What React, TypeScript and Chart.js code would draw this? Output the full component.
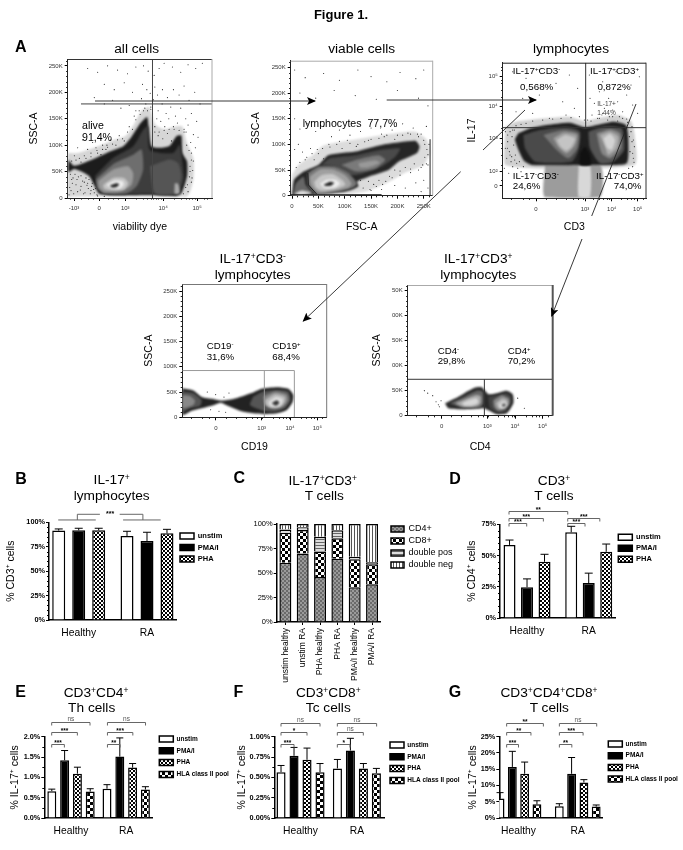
import React, { useEffect, useRef } from "react";
import { Chart, registerables } from "chart.js";

Chart.register(...registerables);

/* ---------- panel A: flow cytometry data (x in display channels or FSC K, y in SSC K or channels) ---------- */
const allCellsContours = [
  [0,85, 30,85, 80,95, 130,108, 175,118, 200,140, 222,165, 245,172, 262,140, 290,130, 320,135, 345,135, 358,105, 378,75, 378,35, 358,3, 100,3, 20,3, 0,3],
  [2,73, 19,61, 67,71, 127,88, 167,98, 192,116, 217,140, 239,153, 244,129, 252,98, 277,95, 307,99, 327,117, 342,118, 345,85, 359,69, 359,41, 342,9, 327,4, 237,6, 147,5, 95,8, 79,25, 65,41, 42,50, 19,55, 2,49],
  [82,41, 137,76, 197,98, 227,129, 242,136, 247,91, 317,85, 337,101, 345,66, 349,35, 332,9, 237,8, 117,8, 92,19],
  [85,35, 142,66, 197,82, 222,92, 227,54, 207,22, 177,9, 107,9, 89,19],
  [247,60, 307,73, 332,66, 342,41, 327,9, 262,9],
  [322,28, 332,27, 337,9, 322,8],
  [92,32, 137,54, 182,60, 197,47, 192,25, 162,13, 112,11, 95,19],
  [107,25, 137,38, 169,38, 182,28, 169,16, 132,15, 109,18],
  [117,25, 142,33, 165,32, 169,25, 157,18, 132,18],
  [127,24, 147,28, 155,26, 147,21, 132,20],
];
const allCellsGreys = ["#d6d6d6", "#1c1c1c", "#3d3d3d", "#6e6e6e", "#555", "#aaa", "#9a9a9a", "#c6c6c6", "#ececec", "#222"];
const allCellsDots = [
  228,250, 242,240, 260,232, 275,245, 290,255, 315,248, 340,238, 362,252, 385,245, 405,255, 225,215, 238,205, 248,198, 262,210, 270,195, 285,205, 300,190, 318,205, 335,195, 350,212, 365,185, 382,200, 398,178, 222,188, 235,178, 250,172, 258,186, 272,165, 284,178, 296,160, 310,172, 324,155, 340,170, 355,150, 372,160, 388,145, 240,165, 255,160, 268,150, 280,145, 292,135, 304,150, 318,135, 330,142, 350,130, 362,138, 378,120, 392,115, 262,125, 272,118, 286,112, 300,122, 312,108, 356,125, 370,105, 384,95, 372,85, 378,70, 368,60, 376,52, 366,40, 372,30, 355,20, 362,12,
  60,245, 90,238, 120,250, 150,242, 180,235, 205,248, 110,215, 140,205, 170,218, 195,200, 80,190, 110,178, 135,185, 160,170, 185,175, 205,165,
  30,95, 45,110, 60,92, 75,105, 90,85, 105,100, 120,96, 130,110, 145,100, 155,118, 170,108, 180,125, 195,130, 205,148, 218,158, 228,165, 20,80, 35,75, 50,80, 70,78, 85,95, 100,82, 115,92,
  6,20, 12,35, 18,8, 25,25, 32,40, 38,15, 45,32, 52,10, 58,24, 64,35, 70,14, 74,28, 10,14, 22,45, 30,12, 40,22, 48,8, 55,38, 62,18, 68,8, 80,10, 84,18, 88,6, 4,6, 14,28,
  12,70, 25,72, 40,68, 55,75, 70,85, 88,90, 105,92, 118,100, 135,102, 150,110, 165,112, 185,135, 200,155, 215,165, 232,170, 250,168, 262,135, 275,125, 290,128, 305,130, 320,130, 335,128, 350,125, 358,100, 365,90, 372,72, 368,50, 374,38, 360,25, 348,8, 8,45, 16,38, 28,35, 40,42, 50,30, 60,28, 72,22, 78,16, 90,4, 110,3,
];
const allCellsGates = [[255, 0, 255, 262], [40, 178, 434, 178]];

const viableContours = [
  [0,40, 12,60, 40,80, 60,98, 110,108, 170,118, 232,125, 255,110, 262,85, 250,60, 215,45, 190,30, 165,18, 140,8, 100,2, 0,0],
  [1,8, 4,31, 22,47, 50,60, 69,79, 120,86, 170,99, 234,107, 242,96, 237,83, 202,66, 183,50, 145,37, 123,27, 126,18, 101,8, 47,3, 25,0, 1,0],
  [56,60, 72,73, 123,79, 167,89, 205,92, 196,76, 170,57, 132,43, 110,40, 82,57],
  [94,60, 126,71, 164,79, 177,70, 158,53, 123,47],
  [126,63, 158,69, 167,64, 145,55, 129,55],
  [30,44, 50,57, 82,57, 107,44, 123,24, 116,16, 88,8, 47,3, 31,21],
  [34,37, 53,51, 78,51, 101,40, 113,24, 107,16, 82,10, 50,6, 36,21],
  [42,27, 56,40, 78,42, 96,30, 101,21, 82,13, 56,10, 45,16],
  [53,23, 66,31, 82,31, 91,24, 82,16, 62,15],
  [60,21, 72,27, 80,25, 75,20, 64,19],
  [2,3, 7,24, 22,37, 26,21, 38,6, 18,1],
  [3,3, 18,10, 38,5, 18,1],
];
const viableGreys = ["#dcdcdc", "#262626", "#4a4a4a", "#7a7a7a", "#999", "#777", "#a0a0a0", "#c8c8c8", "#eee", "#222", "#666", "#ddd"];
const viableDots = [
  5,245, 25,230, 60,238, 90,225, 125,245, 150,232, 180,222, 205,240, 235,228, 250,245, 15,200, 45,190, 80,205, 120,195, 160,188, 200,205, 240,190, 258,175,
  5,150, 15,130, 30,140, 45,125, 60,135, 75,115, 90,128, 110,118, 130,125, 150,132, 170,120, 190,128, 210,140, 230,132, 245,120, 255,135, 260,100,
  5,90, 12,100, 20,85, 28,75, 35,92, 42,70, 50,82, 60,72, 72,95, 85,100, 95,92, 110,102, 122,96, 138,105, 150,110, 165,112, 180,118, 195,110, 210,118, 225,120, 240,115, 250,108, 256,90, 252,75, 258,60,
  248,60, 240,50, 232,62, 225,45, 215,55, 205,40, 195,50, 185,38, 178,28, 165,30, 155,22, 145,28, 135,15, 130,30, 150,10, 170,12, 195,20, 215,15, 235,25, 250,30, 258,15, 245,8,
  8,55, 15,65, 25,70, 38,82, 48,90, 58,92, 70,100, 90,106, 105,108, 125,100, 145,108, 175,115, 200,118, 220,122, 238,120, 252,100, 258,80, 255,62, 245,55, 225,52, 205,48, 190,35, 172,22, 160,18, 148,12,
];
const viableGates = [[262, 0, 262, 110], [-2, 2, 170, 2], [30, 44, 31, 21], [31, 21, 47, 3]];

const lymphContours = [
  [8,215, 40,230, 130,240, 200,245, 247,232, 300,243, 345,250, 385,232, 396,190, 395,100, 8,100],
  [127,100, 292,100, 292,3, 127,3],
  [228,100, 262,100, 262,3, 228,3],
  [47,195, 82,210, 132,220, 202,227, 247,213, 282,220, 332,230, 370,220, 377,175, 372,105, 292,100, 247,100, 87,100, 62,115, 37,175],
  [62,190, 112,205, 192,215, 232,200, 227,145, 207,110, 97,110, 67,150],
  [122,190, 182,205, 227,195, 224,150, 197,120, 162,145],
  [152,180, 182,197, 222,190, 217,160, 192,135, 167,155],
  [162,175, 187,190, 217,180, 207,155, 190,143, 172,157],
  [257,200, 302,215, 357,210, 364,145, 332,110, 292,105, 262,150],
  [282,195, 322,207, 352,195, 354,150, 322,120, 297,135],
  [292,190, 322,200, 347,185, 342,150, 317,130, 307,155],
  [302,180, 322,193, 337,175, 327,145, 314,150],
  [232,135, 247,155, 262,130, 264,100, 232,100],
];
const lymphGreys = ["#d0d0d0", "#9c9c9c", "#d8d8d8", "#1f1f1f", "#4a4a4a", "#777", "#a0a0a0", "#c4c4c4", "#555", "#888", "#b0b0b0", "#d4d4d4", "#111"];
const lymphDots = [
  30,380, 70,360, 110,385, 160,345, 200,370, 225,330, 60,300, 110,310, 180,290, 215,270, 40,260, 90,255, 140,240, 190,250, 230,245,
  260,370, 300,350, 340,380, 385,340, 410,365, 262,300, 275,285, 290,320, 305,270, 318,300, 330,265, 345,290, 360,260, 372,310, 390,280, 405,255, 268,250, 285,240, 300,255, 315,235, 330,245, 345,232, 360,240, 375,228, 255,235,
  8,200, 15,170, 20,140, 25,110, 12,120, 5,90, 28,185, 33,160, 38,130, 42,105, 30,95, 18,75, 45,90, 50,110, 55,80, 62,95, 22,200, 35,205, 14,150, 27,125, 36,115,
  385,200, 388,170, 382,140, 392,120, 378,90, 385,75, 395,155, 380,185, 390,95,
  8,150, 15,190, 22,130, 30,205, 40,218, 55,222, 70,225, 90,232, 120,235, 150,238, 175,240, 205,242, 245,235, 265,232, 290,240, 320,245, 350,245, 372,238, 388,215, 392,175, 390,135, 394,108,
  232,90, 240,80, 250,95, 258,85, 236,70, 246,60, 255,72, 230,55, 242,45, 252,50, 260,40, 234,30, 246,25, 256,30, 238,12, 250,10, 244,88, 254,62, 238,38, 259,18,
];
const lymphGates = [[249, 212, 249, 407], [0, 212, 430, 212]];

const cd19Contours = [
  [0,57.5, 33,53, 58,40, 93,36, 118,32.7, 153,36, 208,48, 238,56.5, 283,59.5, 318,56.5, 333,44, 331,31, 313,14.5, 283,8, 243,6.6, 183,11, 133,24, 115,29, 93,24, 58,18, 28,13, 0,4.6],
  [213,41, 243,51, 288,54, 318,51, 325,34, 308,18, 278,11, 243,13, 203,24.5],
  [243,41, 278,51, 313,46, 318,34, 303,21, 273,16.5, 248,24.5],
  [248,34, 278,46, 308,41, 308,31, 293,21, 268,19, 251,24.5],
  [258,30, 281,40, 301,36, 298,26, 283,21, 263,22.5],
  [268,28, 283,34, 291,29, 281,23],
  [0,51, 33,48, 58,34, 53,22.5, 23,18, 0,11],
  [0,44, 23,42, 38,33, 33,24.5, 0,18],
];
const cd19Greys = ["#222", "#555", "#888", "#bbb", "#e0e0e0", "#333", "#555", "#888"];
const cd19Dots = [65,25, 75,50, 85,15, 100,45, 110,12, 125,40, 130,10, 140,48];
const cd19Gates = [[0, 92.6, 336, 92.6], [336, 0, 336, 92.6], [246, 0, 246, 92.6]];

const cd4Contours = [
  [112,24.7, 152,38, 197,55, 222,56.7, 242,43, 267,45, 297,50, 315,43, 317,24.7, 297,4.7, 267,3.3, 242,11, 227,14.7, 167,12.7, 122,14.7],
  [127,25, 167,37, 207,50, 225,48, 227,25, 217,16, 167,16],
  [142,25, 172,33, 202,41, 219,39, 219,25, 207,19, 167,18],
  [162,25, 182,31, 207,35, 212,26, 197,21, 172,20],
  [242,38, 272,41, 297,45, 310,38, 310,25, 292,8, 267,7, 247,15],
  [257,31, 282,41, 304,35, 305,25, 292,13, 272,10, 259,18],
  [265,25, 285,35, 299,30, 299,21, 287,15, 272,15],
  [275,23, 289,29, 297,23, 289,16, 277,16],
  [282,23, 292,25, 294,20, 285,18],
];
const cd4Greys = ["#2a2a2a", "#666", "#aaa", "#d8d8d8", "#444", "#888", "#bbb", "#e0e0e0", "#555"];
const cd4Dots = [50,50, 60,45, 75,40, 85,28, 92,22, 100,30, 95,18, 330,35, 350,15];
const cd4Gates = [[0, 72.7, 435, 72.7], [230, 0, 230, 72.7]];

const sscTicks = [0, 50, 100, 150, 200, 250];
const sscLabels = ["0", "50K", "100K", "150K", "200K", "250K"];
const cd4SscLabels = ["0", "50K", "00K", "50K", "00K", "50K"];
const fscLabels = ["0", "50K", "100K", "150K", "200K", "250K"];
const decadeLabels = ["0", "10³", "10⁴", "10⁵"];

/* ---------- panels B-G ---------- */
const groups = ["Healthy", "RA"];
const stimNames = ["unstim", "PMA/I", "PHA", "HLA class II pool"];

const bValues = [[91.5, 86], [91.8, 80.9], [91.8, 88.7]];
const bTops = [[93.2, 90.8], [93.9, 89.8], [93.9, 92.8]];
const dValues = [[58.5, 68.6], [24.6, 28], [45, 53]];
const dTops = [[62.4, 73.4], [31.3, 35.9], [51, 59.2]];
const eValues = [[0.66, 0.72], [1.42, 1.51], [1.09, 1.24], [0.65, 0.7]];
const eTops = [[0.71, 0.82], [1.66, 1.97], [1.25, 1.34], [0.72, 0.77]];
const fValues = [[0.564, 0.61], [0.765, 0.83], [0.716, 0.61], [0.564, 0.55]];
const fTops = [[0.646, 0.72], [0.868, 0.98], [0.86, 0.67], [0.67, 0.61]];
const gValues = [[5.97, 3.6], [15.7, 13.6], [13.6, 10.9], [4.2, 3.5]];
const gTops = [[7.8, 4.4], [20.5, 18.6], [17.2, 11.8], [5.3, 4.0]];

const cCategories = ["unstim healthy", "unstim RA", "PHA healthy", "PHA RA", "PMA/I healthy", "PMA/I RA"];
const cNames = ["CD4+", "CD8+", "double pos", "double neg"];
const cCd4 = [60.5, 70, 46, 64.5, 35.5, 38.5];
const cCd8 = [30.5, 24, 26, 21, 28.5, 20.5];
const cDoublePos = [3.5, 2.6, 15, 8, 2.7, 2];
const cDoubleNeg = [5.5, 3.4, 13, 6.5, 33.3, 39];

const dBrackets = [[0.708, 0.995, 75.8, "***"], [0.708, 1.265, 79.8, "***"], [0.708, 1.66, 85.7, "**"], [1.66, 1.94, 75.8, "***"], [1.66, 2.18, 79.8, "***"]];
const eBrackets = [[0.65, 0.88, 1.83, "***"], [0.65, 1.115, 2.12, "***"], [0.65, 1.344, 2.35, "ns"], [1.66, 1.89, 1.83, "**"], [1.66, 2.12, 2.12, "***"], [1.66, 2.35, 2.35, "ns"]];
const fBrackets = [[0.654, 0.885, 0.914, "***"], [0.654, 1.115, 1.062, "*"], [0.654, 1.346, 1.173, "ns"], [1.653, 1.877, 0.914, "*"], [1.653, 2.114, 1.062, "ns"], [1.653, 2.35, 1.173, "ns"]];
const gBrackets = [[0.8, 1, 22.84, "***"], [0.8, 1.21, 26.5, "**"], [0.8, 1.42, 29.3, "**"], [1.69, 1.9, 22.84, "**"], [1.69, 2.09, 26.5, "***"], [1.69, 2.32, 29.3, "ns"]];
const bTreeLines = [
  [[0.7, 102.4], [1.25, 102.4]],
  [[0.98, 102.4], [0.98, 108.2], [1.31, 108.2]],
  [[1.6, 108.2], [1.94, 108.2], [1.94, 102.4]],
  [[1.65, 102.4], [2.2, 102.4]],
];
const bTreeLabel = [1.46, 108.2, "***"];

/* ---------- texts ---------- */
const FONT = "'Liberation Sans', Arial, sans-serif";
const pageTexts: any[] = [
  { t: "Figure 1.", x: 341, y: 14, s: 13, b: 1 },
  { t: "A", x: 20.7, y: 47.3, s: 16, b: 1 }, { t: "B", x: 21, y: 479, s: 16, b: 1 }, { t: "C", x: 239.3, y: 478.3, s: 16, b: 1 }, { t: "D", x: 455, y: 479, s: 16, b: 1 },
  { t: "E", x: 20.7, y: 691.7, s: 16, b: 1 }, { t: "F", x: 238.3, y: 691.7, s: 16, b: 1 }, { t: "G", x: 455, y: 691.7, s: 16, b: 1 },
  { t: "all cells", x: 136.7, y: 49, s: 13.7 }, { t: "viable cells", x: 361.7, y: 49, s: 13.7 }, { t: "lymphocytes", x: 571, y: 49, s: 13.7 },
  { t: "IL-17^+^CD3^-^", x: 252.7, y: 259, s: 13.7 }, { t: "lymphocytes", x: 252.7, y: 275, s: 13.7 },
  { t: "IL-17^+^CD3^+^", x: 478.3, y: 259, s: 13.7 }, { t: "lymphocytes", x: 478.3, y: 275, s: 13.7 },
  { t: "IL-17^+^", x: 111.7, y: 480, s: 13.7 }, { t: "lymphocytes", x: 111.7, y: 495.7, s: 13.7 },
  { t: "IL-17^+^CD3^+^", x: 322.7, y: 480.7, s: 13.7 }, { t: "T cells", x: 324.3, y: 496, s: 13.7 },
  { t: "CD3^+^", x: 554, y: 481, s: 13.7 }, { t: "T cells", x: 554, y: 496, s: 13.7 },
  { t: "CD3^+^CD4^+^", x: 96, y: 693.3, s: 13.7 }, { t: "Th cells", x: 91.7, y: 708.3, s: 13.7 },
  { t: "CD3^+^CD8^+^", x: 328.3, y: 693.3, s: 13.7 }, { t: "Tc cells", x: 328.3, y: 708.3, s: 13.7 },
  { t: "CD3^+^CD4^+^CD8^+^", x: 549, y: 693.3, s: 13.7 }, { t: "T cells", x: 549.3, y: 708.3, s: 13.7 },
  { t: "alive", l: 82, y: 125, s: 10.6 }, { t: "91,4%", l: 82, y: 136.7, s: 10.6 },
  { t: "lymphocytes  77,7%", l: 302.7, y: 122.7, s: 10.6 },
  { t: "IL-17^+^CD3^-^", l: 512.7, y: 71, s: 9.8 }, { t: "0,568%", x: 536.7, y: 86.7, s: 9.8 },
  { t: "IL-17^+^CD3^+^", l: 590, y: 71, s: 9.8 }, { t: "0,872%", x: 614, y: 86.7, s: 9.8 },
  { t: "IL-17+", l: 597.3, y: 104, s: 6.5, c: "#444" }, { t: "1,44%", l: 597.3, y: 112.7, s: 6.5, c: "#444" },
  { t: "IL-17^-^CD3^-^", l: 512.7, y: 175.7, s: 9.8 }, { t: "24,6%", l: 512.7, y: 186, s: 9.8 },
  { t: "IL-17^-^CD3^+^", l: 596, y: 175.7, s: 9.8 }, { t: "74,0%", x: 627.7, y: 186, s: 9.8 },
  { t: "CD19^-^", l: 206.7, y: 346, s: 9.7 }, { t: "31,6%", l: 206.7, y: 356.7, s: 9.7 },
  { t: "CD19^+^", l: 272.3, y: 346, s: 9.7 }, { t: "68,4%", l: 272.3, y: 356.7, s: 9.7 },
  { t: "CD4^-^", l: 437.7, y: 350.7, s: 9.7 }, { t: "29,8%", l: 437.7, y: 361, s: 9.7 },
  { t: "CD4^+^", l: 507.7, y: 350.7, s: 9.7 }, { t: "70,2%", l: 507.7, y: 361, s: 9.7 },
];
const arrowLines = [
  { p: "95,101 315,101", head: true },
  { p: "386.7,100 536,100", head: true },
  { p: "525,110 483,150", head: false },
  { p: "460.7,171.7 303.3,321", head: true },
  { p: "636,104 591.7,216", head: false },
  { p: "582,239 551.7,316", head: true },
];

/* ---------- helpers ---------- */
const pts = (flat: number[]) => {
  const out: any[] = [];
  for (let i = 0; i < flat.length; i += 2) out.push({ x: flat[i], y: flat[i + 1] });
  return out;
};

function makePattern(kind: string) {
  const c = document.createElement("canvas");
  const g = c.getContext("2d")!;
  const paint = (size: number, bg: string, fg: string, cells: number[][], unit: number) => {
    c.width = size; c.height = size;
    g.fillStyle = bg; g.fillRect(0, 0, size, size);
    g.fillStyle = fg;
    cells.forEach(([x, y]) => g.fillRect(x * unit, y * unit, unit, unit));
  };
  if (kind === "pha") paint(4, "#fff", "#000", [[0, 0], [1, 1]], 2);
  if (kind === "hla") paint(6, "#000", "#fff", [[0, 0], [1, 1]], 3);
  if (kind === "cd4") paint(4, "#9a9a9a", "#6a6a6a", [[0, 0], [1, 1]], 2);
  if (kind === "cd8") paint(6, "#fff", "#000", [[0, 0], [1, 1]], 3);
  if (kind === "dp") { c.width = 3; c.height = 3; g.fillStyle = "#ddd"; g.fillRect(0, 0, 3, 3); g.fillStyle = "#666"; g.fillRect(0, 0, 3, 1); }
  if (kind === "dn") { c.width = 3; c.height = 3; g.fillStyle = "#fff"; g.fillRect(0, 0, 3, 3); g.fillStyle = "#555"; g.fillRect(0, 0, 1, 3); }
  return g.createPattern(c, "repeat");
}

function Box({ make, canvasBox }: any) {
  const ref = useRef<HTMLCanvasElement>(null);
  useEffect(() => {
    const chart = new Chart(ref.current!, make());
    return () => chart.destroy();
  }, []);
  return (
    <canvas
      ref={ref}
      width={canvasBox.w}
      height={canvasBox.h}
      style={{ position: "absolute", left: canvasBox.l, top: canvasBox.t, width: canvasBox.w, height: canvasBox.h }}
    />
  );
}

const legendPlacer = (spec: any, box: any) => ({
  id: "legendPlacer",
  beforeInit(chart: any) {
    if (!spec || !chart.legend) return;
    const fit = chart.legend.fit;
    chart.legend.fit = function () {
      fit.call(this);
      this.width = 0;
    };
  },
  afterLayout(chart: any) {
    if (!spec || !chart.legend) return;
    const L = chart.legend;
    const pad = spec.gap - spec.font;
    L.left = spec.x - box.l - pad;
    L.right = box.w;
    L.top = spec.y - box.t - pad - spec.font / 2;
    L.bottom = box.h;
  },
});

function rectBox(r: any, ml: number, mt: number, xh: number, extraRight: number) {
  const l = Math.floor(r.l - ml);
  const t = Math.floor(r.t - mt);
  const w = Math.ceil(r.r + extraRight - l);
  const h = Math.ceil(r.b + xh - t);
  return { l, t, w, h };
}

const SOFT = "blur(1px)";

function flowConfig(p: any, box: any) {
  const datasets: any[] = [];
  p.gates.forEach((g: number[]) =>
    datasets.push({ data: pts(g), showLine: true, borderColor: p.gateColor || "#333", borderWidth: 1, pointRadius: 0, order: 0, nextFilter: "none" })
  );
  const n = p.contours.length;
  p.contours.forEach((c: number[], i: number) =>
    datasets.push({
      data: pts([...c, c[0], c[1]]),
      showLine: true,
      fill: "shape",
      tension: 0.2,
      backgroundColor: p.greys[i],
      borderWidth: 0,
      borderColor: "rgba(0,0,0,0)",
      pointRadius: 0,
      order: n - i,
      nextFilter: i === n - 1 || (p.halo && i === 0) ? "none" : SOFT,
    })
  );
  datasets.push({ data: pts(p.dots), backgroundColor: "#222", borderWidth: 0, pointRadius: 0.55, order: p.halo ? n - 0.5 : n + 1, nextFilter: SOFT });
  const tickFont = { family: FONT, size: 6 };
  return {
    type: "scatter",
    data: { datasets },
    options: {
      responsive: false,
      animation: false,
      devicePixelRatio: 1,
      layout: { autoPadding: false, padding: { top: p.r.t - box.t, right: box.l + box.w - p.r.r, left: 0, bottom: box.t + box.h - p.r.b - p.xh } },
      plugins: { legend: { display: false }, tooltip: { enabled: false }, title: { display: false } },
      scales: {
        x: {
          type: "linear", min: p.xMin, max: p.xMax,
          afterFit: (s: any) => { s.height = p.xh; },
          afterBuildTicks: (s: any) => { s.ticks = p.xTicks.map((v: number) => ({ value: v })); },
          ticks: { callback: (_v: any, i: number) => p.xLabels[i], font: tickFont, color: "#333", padding: 4, autoSkip: false, maxRotation: 0, minRotation: 0 },
          grid: { drawOnChartArea: false, tickLength: 3, tickColor: "#000" },
          border: { color: "#222", width: 1 },
          title: { display: true, text: p.xTitle, font: { family: FONT, size: 10.5 }, color: "#000", padding: 0 },
        },
        y: {
          type: "linear", min: p.yMin, max: p.yMax,
          afterFit: (s: any) => { s.width = p.r.l - box.l; },
          afterBuildTicks: (s: any) => { s.ticks = p.yTicks.map((v: number) => ({ value: v })); },
          ticks: { callback: (_v: any, i: number) => p.yLabels[i], font: tickFont, color: "#333", padding: 2, autoSkip: false },
          grid: { drawOnChartArea: false, tickLength: 3, tickColor: "#000" },
          border: { color: "#222", width: 1 },
          title: { display: true, text: p.yTitle, font: { family: FONT, size: 10.5 }, color: "#000", padding: 0 },
        },
      },
    },
    plugins: [
      {
        id: "flowDeco",
        beforeDatasetsDraw(chart: any) {
          chart.ctx.filter = p.halo ? SOFT : "none";
        },
        afterDatasetDraw(chart: any, args: any) {
          chart.ctx.filter = chart.data.datasets[args.index].nextFilter || "none";
        },
        afterDatasetsDraw(chart: any) {
          chart.ctx.filter = "none";
        },
        afterDraw(chart: any) {
          const { ctx, chartArea: a, scales } = chart;
          ctx.save();
          ctx.lineWidth = 1;
          ctx.strokeStyle = p.topColor; ctx.beginPath(); ctx.moveTo(a.left, a.top + 0.5); ctx.lineTo(a.right, a.top + 0.5); ctx.stroke();
          ctx.lineWidth = p.rightWidth || 1;
          ctx.strokeStyle = p.rightColor; ctx.beginPath(); ctx.moveTo(a.right, a.top); ctx.lineTo(a.right, a.bottom); ctx.stroke();
          ctx.lineWidth = 1; ctx.strokeStyle = "#222";
          ctx.beginPath();
          p.xMinor.forEach((v: number) => { const x = Math.round(scales.x.getPixelForValue(v)) + 0.5; ctx.moveTo(x, a.bottom); ctx.lineTo(x, a.bottom + 1.6); });
          (p.yMinor || []).forEach((v: number) => { const y = Math.round(scales.y.getPixelForValue(v)) + 0.5; ctx.moveTo(a.left, y); ctx.lineTo(a.left - 1.6, y); });
          ctx.stroke();
          ctx.restore();
        },
      },
    ],
  };
}

function barConfig(b: any, box: any) {
  const barTicks = b.yTicks;
  const datasets = b.values.map((vals: number[], i: number) => ({
    label: b.names[i],
    data: vals.map((v, k) => ({ x: k + 1, y: v })),
    backgroundColor: b.fills[i],
    borderColor: "#000",
    borderWidth: 1.5,
    categoryPercentage: b.catPct,
    barPercentage: b.barPct,
  }));
  return {
    type: "bar",
    data: { datasets },
    options: {
      responsive: false,
      animation: false,
      devicePixelRatio: 1,
      layout: { autoPadding: false, padding: { top: b.r.t - box.t, right: box.l + box.w - b.r.r, left: 0, bottom: 0 } },
      plugins: {
        tooltip: { enabled: false },
        title: { display: false },
        legend: {
          display: true, position: "right", align: "start",
          labels: { boxWidth: 14, boxHeight: 6, padding: b.legend.gap - b.legend.font, color: "#000", font: { family: FONT, size: b.legend.font, weight: "bold" } },
        },
      },
      scales: {
        x: {
          type: "linear", min: b.xMin, max: b.xMax, offset: false,
          afterFit: (s: any) => { s.height = b.xh; },
          afterBuildTicks: (s: any) => { s.ticks = groups.map((_g, i) => ({ value: i + 1 })); },
          ticks: { callback: (_v: any, i: number) => groups[i], font: { family: FONT, size: 10.3 }, color: "#000", padding: 7, autoSkip: false, maxRotation: 0, minRotation: 0 },
          grid: { display: false, offset: false, drawTicks: false },
          border: { color: "#000", width: 1.5 },
        },
        y: {
          type: "linear", min: 0, max: b.yMax,
          afterFit: (s: any) => { s.width = b.r.l - box.l; },
          afterBuildTicks: (s: any) => { s.ticks = barTicks.map((v: number) => ({ value: v })); },
          ticks: { callback: (_v: any, i: number) => b.yLabels[i], font: { family: FONT, size: 7.3, weight: "bold" }, color: "#000", padding: 1, autoSkip: false },
          grid: { drawOnChartArea: false, tickLength: 3, tickColor: "#000", tickWidth: 1 },
          border: { color: "#000", width: 1.5 },
          title: { display: true, text: b.yTitle, font: { family: FONT, size: 10.5 }, color: "#000", padding: 0 },
        },
      },
    },
    plugins: [
      legendPlacer(b.legend, box),
      {
        id: "barDeco",
        afterDatasetsDraw(chart: any) {
          const { ctx, scales, chartArea: a } = chart;
          const xs = scales.x, ys = scales.y;
          ctx.save();
          ctx.strokeStyle = "#000"; ctx.lineWidth = 1;
          b.tops.forEach((tops: number[], d: number) => {
            const meta = chart.getDatasetMeta(d);
            tops.forEach((top, k) => {
              const bar = meta.data[k];
              const yT = ys.getPixelForValue(top);
              ctx.beginPath();
              ctx.moveTo(bar.x, ys.getPixelForValue(b.values[d][k])); ctx.lineTo(bar.x, yT);
              ctx.moveTo(bar.x - b.cap, yT); ctx.lineTo(bar.x + b.cap, yT);
              ctx.stroke();
            });
          });
          ctx.lineWidth = 1; ctx.strokeStyle = "#666";
          const label = (x: number, y: number, t: string) => {
            ctx.fillStyle = t === "ns" ? "#555" : "#000";
            ctx.font = `${t === "ns" ? "normal" : "bold"} 6.5px ${FONT}`;
            ctx.textAlign = "center"; ctx.textBaseline = "bottom";
            ctx.fillText(t, x, t === "ns" ? y : y + 2);
          };
          (b.brackets || []).forEach(([x1, x2, v, t]: any) => {
            const p1 = xs.getPixelForValue(x1), p2 = xs.getPixelForValue(x2), y = Math.round(ys.getPixelForValue(v)) + 0.5;
            ctx.beginPath(); ctx.moveTo(p1, y + 3); ctx.lineTo(p1, y); ctx.lineTo(p2, y); ctx.lineTo(p2, y + 3); ctx.stroke();
            label((p1 + p2) / 2, y - 0.5, t);
          });
          (b.lines || []).forEach((line: number[][]) => {
            ctx.beginPath();
            line.forEach(([x, v], i) => {
              const X = xs.getPixelForValue(x), Y = ys.getPixelForValue(v);
              if (i) ctx.lineTo(X, Y); else ctx.moveTo(X, Y);
            });
            ctx.stroke();
          });
          if (b.lineLabel) {
            ctx.fillStyle = "#000"; ctx.font = `bold 7px ${FONT}`; ctx.textAlign = "center"; ctx.textBaseline = "middle";
            ctx.fillText(b.lineLabel[2], xs.getPixelForValue(b.lineLabel[0]), ys.getPixelForValue(b.lineLabel[1]));
          }
          ctx.strokeStyle = "#000"; ctx.beginPath();
          (b.yMinor || []).forEach((v: number) => { const y = Math.round(ys.getPixelForValue(v)) + 0.5; ctx.moveTo(a.left, y); ctx.lineTo(a.left - 2, y); });
          ctx.stroke();
          ctx.restore();
        },
      },
    ],
  };
}

function stackConfig(box: any, r: any, xh: number, legend: any) {
  const fills = ["cd4", "cd8", "dp", "dn"].map(makePattern);
  const series = [cCd4, cCd8, cDoublePos, cDoubleNeg];
  return {
    type: "bar",
    data: {
      labels: cCategories,
      datasets: series.map((vals, i) => ({
        label: cNames[i], data: vals, backgroundColor: fills[i], borderColor: "#000", borderWidth: 1.5,
        barPercentage: 0.69, categoryPercentage: 1,
      })),
    },
    options: {
      responsive: false, animation: false, devicePixelRatio: 1,
      layout: { autoPadding: false, padding: { top: r.t - box.t, right: box.l + box.w - r.r, left: 0, bottom: 0 } },
      plugins: {
        tooltip: { enabled: false }, title: { display: false },
        legend: { display: true, position: "right", align: "start", labels: { boxWidth: 13, boxHeight: 6, padding: legend.gap - legend.font, color: "#000", font: { family: FONT, size: legend.font } } },
      },
      scales: {
        x: {
          stacked: true,
          afterFit: (s: any) => { s.height = xh; },
          ticks: { font: { family: FONT, size: 8.5 }, color: "#000", padding: 3, autoSkip: false, maxRotation: 90, minRotation: 90 },
          grid: { drawOnChartArea: false, tickLength: 3, tickColor: "#000", offset: false },
          border: { color: "#000", width: 1.5 },
        },
        y: {
          stacked: true, min: 0, max: 100,
          afterFit: (s: any) => { s.width = r.l - box.l; },
          afterBuildTicks: (s: any) => { s.ticks = [0, 25, 50, 75, 100].map((v) => ({ value: v })); },
          ticks: { callback: (v: any) => v + "%", font: { family: FONT, size: 7.5 }, color: "#000", padding: 1, autoSkip: false },
          grid: { drawOnChartArea: false, tickLength: 3, tickColor: "#000" },
          border: { color: "#000", width: 1.5 },
        },
      },
    },
    plugins: [legendPlacer(legend, box)],
  };
}

/* ---------- panel layout ---------- */
const xMinor1 = [8, 40, 60, 75, 120, 135, 150, 205, 225, 240, 250, 258, 265, 272, 280, 320, 340, 355, 365, 375, 383, 410, 420];
const xMinor3 = [25, 60, 80, 130, 160, 190, 210, 225, 240, 272, 290, 302, 312, 320, 355, 372, 385, 395, 420];
const sscMinor = [10, 20, 30, 40, 60, 70, 80, 90, 110, 120, 130, 140, 160, 170, 180, 190, 210, 220, 230, 240, 260];
const fscMinor = [10, 20, 30, 40, 60, 70, 80, 90, 110, 120, 130, 140, 160, 170, 180, 190, 210, 220, 230, 240, 260];

const flowPanels: any[] = [
  { r: { l: 67.7, r: 212, t: 59, b: 198 }, ytx: 35, xtY: 227.3, halo: true, xMin: 0, xMax: 434, yMin: 0, yMax: 263, xTicks: [19, 95, 173, 287, 389], xLabels: ["-10³", "0", "10³", "10⁴", "10⁵"], yTicks: sscTicks, yLabels: sscLabels, xMinor: xMinor1, yMinor: sscMinor, xTitle: "viability dye", yTitle: "SSC-A", contours: allCellsContours, greys: allCellsGreys, dots: allCellsDots, gates: allCellsGates, gateColor: "#444", topColor: "#333", rightColor: "#aaa" },
  { r: { l: 290.7, r: 432.7, t: 60.7, b: 195.7 }, ytx: 256.7, xtY: 227.3, halo: true, xMin: -2.5, xMax: 267, yMin: 0, yMax: 263, xTicks: sscTicks, xLabels: fscLabels, yTicks: sscTicks, yLabels: sscLabels, xMinor: fscMinor, yMinor: sscMinor, xTitle: "FSC-A", yTitle: "SSC-A", contours: viableContours, greys: viableGreys, dots: viableDots, gates: viableGates, gateColor: "#222", topColor: "#aaa", rightColor: "#aaa" },
  { r: { l: 502.7, r: 646, t: 62.7, b: 198.3 }, ytx: 472.3, xtY: 227.3, halo: true, xMin: 0, xMax: 430, yMin: 0, yMax: 407, xTicks: [100, 247, 327, 405], xLabels: decadeLabels, yTicks: [37, 80, 180, 275, 365], yLabels: ["0", "10²", "10³", "10⁴", "10⁵"], xMinor: xMinor3, yMinor: [55, 100, 130, 150, 165, 210, 235, 255, 265, 305, 325, 345, 355, 385, 395], xTitle: "CD3", yTitle: "IL-17", contours: lymphContours, greys: lymphGreys, dots: lymphDots, gates: lymphGates, gateColor: "#333", topColor: "#222", rightColor: "#333" },
  { r: { l: 182.3, r: 326.7, t: 284, b: 417.3 }, ytx: 150, xtY: 447.3, xMin: 0, xMax: 433, yMin: 0, yMax: 264, xTicks: [101, 238, 323, 405], xLabels: decadeLabels, yTicks: sscTicks, yLabels: sscLabels, xMinor: xMinor3, yMinor: sscMinor, xTitle: "CD19", yTitle: "SSC-A", contours: cd19Contours, greys: cd19Greys, dots: cd19Dots, gates: cd19Gates, gateColor: "#999", topColor: "#777", rightColor: "#777" },
  { r: { l: 407.7, r: 552.7, t: 285, b: 415.7 }, ytx: 377.3, xtY: 447.3, xMin: 0, xMax: 435, yMin: 0, yMax: 261, xTicks: [102, 239, 322, 405], xLabels: decadeLabels, yTicks: sscTicks, yLabels: cd4SscLabels, xMinor: xMinor3, yMinor: sscMinor, xTitle: "CD4", yTitle: "SSC-A", contours: cd4Contours, greys: cd4Greys, dots: cd4Dots, gates: cd4Gates, gateColor: "#333", topColor: "#aaa", rightColor: "#555", rightWidth: 2 },
];

const barPanels: any[] = [
  { r: { l: 49, r: 176.7, t: 522.3, b: 620 }, ytx: 11.7, xMin: 0.565, xMax: 2.435, catPct: 0.878, barPct: 0.65, yMax: 100, yTicks: [0, 25, 50, 75, 100], yLabels: ["0%", "25%", "50%", "75%", "100%"], yMinor: [5, 10, 15, 20, 30, 35, 40, 45, 55, 60, 65, 70, 80, 85, 90, 95], yTitle: "% CD3⁺ cells", values: bValues, tops: bTops, patterns: ["white", "black", "pha"], lines: bTreeLines, lineLabel: bTreeLabel, legend: { x: 180, y: 536, gap: 11.5, font: 7.5 }, cap: 4, mt: 34, er: 60 },
  { r: { l: 500, r: 615, t: 524.3, b: 617.7 }, ytx: 472.7, xMin: 0.562, xMax: 2.426, catPct: 0.851, barPct: 0.686, yMax: 75, yTicks: [0, 25, 50, 75], yLabels: ["0%", "25%", "50%", "75%"], yMinor: [5, 10, 15, 20, 30, 35, 40, 45, 55, 60, 65, 70], yTitle: "% CD4⁺ cells", values: dValues, tops: dTops, patterns: ["white", "black", "pha"], brackets: dBrackets, legend: { x: 618.3, y: 537.3, gap: 11, font: 7.5 }, cap: 4, mt: 34, er: 60 },
  { r: { l: 44.3, r: 152.7, t: 736.7, b: 817.7 }, ytx: 16, xMin: 0.516, xMax: 2.48, catPct: 0.928, barPct: 0.7, yMax: 2, yTicks: [0, 0.5, 1, 1.5, 2], yLabels: ["0.0%", "0.5%", "1.0%", "1.5%", "2.0%"], yMinor: [0.25, 0.75, 1.25, 1.75], yTitle: "% IL-17⁺ cells", values: eValues, tops: eTops, patterns: ["white", "black", "pha", "hla"], brackets: eBrackets, legend: { x: 159.3, y: 739, gap: 11.8, font: 6.5 }, cap: 3.5, mt: 30, er: 78 },
  { r: { l: 274.3, r: 384.3, t: 736.7, b: 817.7 }, ytx: 243, xMin: 0.535, xMax: 2.486, catPct: 0.922, barPct: 0.7, yMax: 1, yTicks: [0, 0.25, 0.5, 0.75, 1], yLabels: ["0.00%", "0.25%", "0.50%", "0.75%", "1.00%"], yMinor: [0.125, 0.375, 0.625, 0.875], yTitle: "% IL-17⁺ cells", values: fValues, tops: fTops, patterns: ["white", "black", "pha", "hla"], brackets: fBrackets, legend: { x: 390, y: 745, gap: 11.8, font: 6.5 }, cap: 3.5, mt: 30, er: 78 },
  { r: { l: 499.3, r: 602.7, t: 736.7, b: 817.7 }, ytx: 473.3, xMin: 0.676, xMax: 2.421, catPct: 0.83, barPct: 0.72, yMax: 25, yTicks: [0, 5, 10, 15, 20, 25], yLabels: ["0%", "5%", "10%", "15%", "20%", "25%"], yTitle: "% IL-17⁺ cells", values: gValues, tops: gTops, patterns: ["white", "black", "pha", "hla"], brackets: gBrackets, legend: { x: 608.3, y: 744, gap: 11.7, font: 6.5 }, cap: 3.5, mt: 30, er: 78 },
];

const stackRect = { l: 276.7, r: 380.7, t: 524, b: 622 };
const stackLegend = { x: 391, y: 529, gap: 12, font: 9 };

function Rich({ t }: { t: string }) {
  const parts = t.split("^");
  return (
    <>
      {parts.map((p, i) =>
        i % 2 ? (
          <span key={i} style={{ fontSize: "0.62em", position: "relative", top: "-0.45em" }}>{p}</span>
        ) : (
          <span key={i}>{p}</span>
        )
      )}
    </>
  );
}

function FlowChart({ p }: any) {
  const ml = p.r.l - (p.ytx - 6.3);
  const xh = p.xtY - p.r.b + 6.3;
  const box = rectBox(p.r, ml, 6, xh, 6);
  return <Box canvasBox={box} make={() => flowConfig({ ...p, xh }, box)} />;
}

function BarChart({ b }: any) {
  const ml = b.r.l - (b.ytx - 6.3);
  const xh = 24;
  const box = rectBox(b.r, ml, b.mt, xh, b.er);
  return (
    <Box
      canvasBox={box}
      make={() => {
        const fills = b.patterns.map((k: string) => (k === "white" || k === "black" ? k : makePattern(k)));
        return barConfig({ ...b, xh, fills, names: stimNames }, box);
      }}
    />
  );
}

function StackChart() {
  const box = rectBox(stackRect, 30, 6, 66, 76);
  return <Box canvasBox={box} make={() => stackConfig(box, stackRect, 66, stackLegend)} />;
}

export default function App() {
  return (
    <div style={{ position: "absolute", left: 0, top: 0, width: 683, height: 850, background: "#fff", overflow: "hidden", fontFamily: FONT, color: "#000", filter: "blur(0.3px)" }}>
      {flowPanels.map((p, i) => <FlowChart key={i} p={p} />)}
      {barPanels.map((b, i) => <BarChart key={i} b={b} />)}
      <StackChart />
      <svg width={683} height={850} style={{ position: "absolute", left: 0, top: 0, pointerEvents: "none" }}>
        <defs>
          <marker id="head" markerUnits="userSpaceOnUse" markerWidth="9" markerHeight="8" refX="8" refY="4" orient="auto">
            <path d="M0 0L9 4L0 8L2 4z" fill="#000" />
          </marker>
        </defs>
        {arrowLines.map((a, i) => (
          <polyline key={i} points={a.p} fill="none" stroke="#222" strokeWidth={0.9} markerEnd={a.head ? "url(#head)" : undefined} />
        ))}
      </svg>
      {pageTexts.map((x, i) => (
        <div
          key={i}
          style={{
            position: "absolute",
            left: x.l ?? x.x,
            top: x.y,
            transform: x.l !== undefined ? "translateY(-50%)" : "translate(-50%,-50%)",
            fontSize: x.s,
            fontWeight: x.b ? 700 : 400,
            color: x.c || "#000",
            whiteSpace: "pre",
            lineHeight: 1,
          }}
        >
          <Rich t={x.t} />
        </div>
      ))}
    </div>
  );
}
